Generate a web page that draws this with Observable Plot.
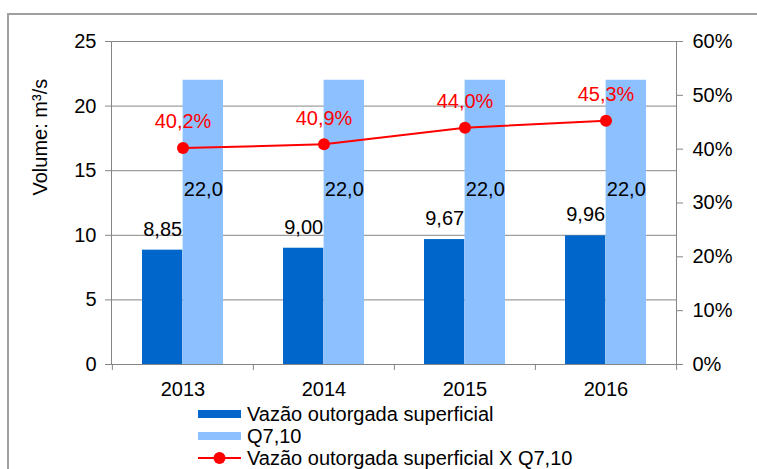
<!DOCTYPE html>
<html>
<head>
<meta charset="utf-8">
<script src="https://cdn.jsdelivr.net/npm/d3@7"></script>
<script src="https://cdn.jsdelivr.net/npm/@observablehq/plot@0.6"></script>
<style>
  html, body { margin: 0; padding: 0; width: 757px; height: 469px; overflow: hidden; background: #fff; }
  body { position: relative; font-family: "Liberation Sans", Arial, sans-serif; }
  #frame { position: absolute; left: 7px; top: 13px; width: 820px; height: 520px; border: 2px solid #a0a0a0; box-sizing: border-box; pointer-events: none; z-index: 10; }
  #chart { position: absolute; left: 0; top: 0; z-index: 1; }
  #legend { position: absolute; left: 198px; top: 403px; font-size: 20px; line-height: 22px; color: #000; z-index: 2; }
  .row { height: 22px; display: flex; align-items: center; white-space: nowrap; }
  .sw { width: 43px; height: 8px; margin-right: 6px; }
  .row svg { margin-right: 6px; }
</style>
</head>
<body>
<div id="frame"></div>
<div id="chart"></div>
<div id="legend"></div>
<script>
const years = ["2013", "2014", "2015", "2016"];
const vazao = [8.85, 9.00, 9.67, 9.96];
const q710 = [22.0, 22.0, 22.0, 22.0];
const razao = [40.2, 40.9, 44.0, 45.3];
const leftTicks = [0, 5, 10, 15, 20, 25];
const rightTicks = [0, 10, 20, 30, 40, 50, 60];
const seriesNames = ["Vazão outorgada superficial", "Q7,10", "Vazão outorgada superficial X Q7,10"];
const yLabel = "Volume: m³/s";

const darkBlue = "#0066CC";
const lightBlue = "#8DC0FF";
const red = "#FF0000";
const grey = "#868686";

const leftMax = 25, rightMax = 60;
const pctToY = p => p / rightMax * leftMax;

const rowsV = years.map((y, i) => ({year: y, value: vazao[i]}));
const rowsQ = years.map((y, i) => ({year: y, value: q710[i]}));
const rowsR = years.map((y, i) => ({year: y, value: pctToY(razao[i]), pct: razao[i]}));

const W = 757, H = 400, mL = 111, mR = 81, mT = 41, mB = 36;
const band = (W - mL - mR) / years.length;
const fs = 20;

const plot = Plot.plot({
  width: W, height: H,
  marginLeft: mL, marginRight: mR, marginTop: mT, marginBottom: mB,
  style: {fontFamily: "'Liberation Sans', Arial, sans-serif", fontSize: fs + "px", color: "#000", background: "transparent"},
  x: {type: "band", domain: years, padding: 0, axis: null},
  y: {domain: [0, leftMax], axis: null},
  marks: [
    Plot.gridY(leftTicks, {stroke: grey, strokeOpacity: 1}),
    Plot.frame({stroke: grey}),
    Plot.barY(rowsV, {x: "year", y: "value", fill: darkBlue, insetLeft: 30, insetRight: band - 30 - 40.6}),
    Plot.barY(rowsQ, {x: "year", y: "value", fill: lightBlue, insetLeft: 30 + 40.6, insetRight: 30}),
    Plot.ruleX(years, {x: d => d, dx: -band / 2, y1: 0, y2: 0, insetBottom: -6, stroke: grey}),
    Plot.ruleX([years[years.length - 1]], {x: d => d, dx: band / 2, y1: 0, y2: 0, insetBottom: -6, stroke: grey}),
    Plot.axisY(leftTicks, {anchor: "left", tickSize: 6, tickPadding: 9, stroke: grey, label: null, fontSize: fs}),
    Plot.axisY(rightTicks.map(pctToY), {anchor: "right", tickSize: 6, tickPadding: 10, stroke: grey, label: null,
      tickFormat: d => Math.round(d * rightMax / leftMax) + "%", fontSize: fs}),
    Plot.axisX({anchor: "bottom", tickSize: 0, tickPadding: 17, label: null, fontSize: fs}),
    Plot.lineY(rowsR, {x: "year", y: "value", stroke: red, strokeWidth: 2}),
    Plot.dot(rowsR, {x: "year", y: "value", r: 6, fill: red, stroke: "none"}),
    Plot.text(rowsR, {x: "year", y: "value", text: d => d.pct.toFixed(1).replace(".", ",") + "%", fill: red, dy: -26, fontSize: fs}),
    Plot.text(rowsV, {x: "year", y: "value", text: d => d.value.toFixed(2).replace(".", ","), dx: -20.3, dy: -21, fill: "#000", fontSize: fs}),
    Plot.text(rowsQ, {x: "year", y: "value", text: d => d.value.toFixed(1).replace(".", ","), dx: 20.3, dy: 109, fill: "#000", fontSize: fs}),
    Plot.text([yLabel], {text: d => d, frameAnchor: "left", dx: -71, dy: -7.5, rotate: -90, fill: "#000", fontSize: fs})
  ]
});
document.getElementById("chart").appendChild(plot);

const legend = document.getElementById("legend");
const swColors = [darkBlue, lightBlue];
seriesNames.forEach((name, i) => {
  const row = document.createElement("div");
  row.className = "row";
  if (i < 2) {
    const sw = document.createElement("div");
    sw.className = "sw";
    sw.style.background = swColors[i];
    row.appendChild(sw);
  } else {
    const ns = "http://www.w3.org/2000/svg";
    const s = document.createElementNS(ns, "svg");
    s.setAttribute("width", 43); s.setAttribute("height", 14);
    const l = document.createElementNS(ns, "line");
    l.setAttribute("x1", 0); l.setAttribute("x2", 43); l.setAttribute("y1", 7); l.setAttribute("y2", 7);
    l.setAttribute("stroke", red); l.setAttribute("stroke-width", 2);
    const c = document.createElementNS(ns, "circle");
    c.setAttribute("cx", 21.5); c.setAttribute("cy", 7); c.setAttribute("r", 6); c.setAttribute("fill", red);
    s.appendChild(l); s.appendChild(c);
    row.appendChild(s);
  }
  const t = document.createElement("span");
  t.textContent = name;
  row.appendChild(t);
  legend.appendChild(row);
});
</script>
</body>
</html>
